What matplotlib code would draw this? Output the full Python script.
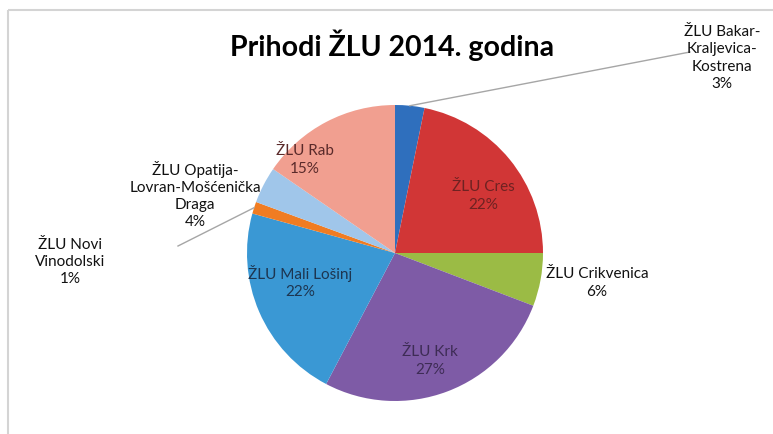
import numpy as np
import matplotlib.pyplot as plt

plt.rcParams['font.family'] = ['Lato', 'DejaVu Sans']

# data (shares of income, %)
names = ["ŽLU Bakar-\nKraljevica-\nKostrena", "ŽLU Cres", "ŽLU Crikvenica", "ŽLU Krk",
         "ŽLU Mali Lošinj", "ŽLU Novi\nVinodolski", "ŽLU Opatija-\nLovran-Mošćenička\nDraga",
         "ŽLU Rab"]
shares = [3.2, 21.8, 5.8, 26.9, 21.6, 1.3, 4.0, 15.4]
title = "Prihodi ŽLU 2014. godina"

colors = ["#2f6fbd", "#d13636", "#9bbb45", "#7e5ba6", "#3a98d4", "#f07c22", "#a0c6ea", "#f19f90"]
text_colors = ["#111111", "#6e2222", "#111111", "#3e2c55", "#1d3550", "#111111", "#111111", "#5a2a2a"]

# layout in pixel coords (y measured from top)
W, H = 773, 434
cx, cy, R = 395, 253, 148
label_pos = [(722, 58), (483, 196), (597, 283), (430, 361),
             (300, 282), (70, 262), (195, 195), (305, 160)]
leader_end = {0: (690, 52), 5: (178, 246)}

fig = plt.figure(figsize=(W / 100, H / 100), dpi=100)
ax = fig.add_axes([0, 0, 1, 1])

wedges, _ = ax.pie(shares, colors=colors, startangle=90, counterclock=False,
                   center=(cx, H - cy), radius=R, wedgeprops=dict(linewidth=0))
ax.set_xlim(0, W)
ax.set_ylim(0, H)
ax.set_aspect('equal')
ax.axis('off')

# leader lines from slice edge to outer labels
cum = np.cumsum([0] + shares)
for i, (ex, ey) in leader_end.items():
    mid = (cum[i] + cum[i + 1]) / 2 / 100 * 2 * np.pi
    sx = cx + R * np.sin(mid)
    sy = cy - R * np.cos(mid)
    ax.plot([sx, ex], [H - sy, H - ey], color="#a6a6a6", lw=1)

for i, (name, v) in enumerate(zip(names, shares)):
    x, y = label_pos[i]
    ax.text(x, H - y, f"{name}\n{round(v)}%", ha='center', va='center',
            fontsize=11, color=text_colors[i], linespacing=1.3)

ax.text(392, H - 45, title, ha='center', va='center', fontsize=20.5,
        fontweight='bold', color='black')

# chart frame
ax.plot([8, W], [H - 10, H - 10], color="#d4d4d4", lw=1.5, solid_capstyle='butt')
ax.plot([8, 8], [H - 10, 0], color="#d4d4d4", lw=1.5, solid_capstyle='butt')

fig.savefig("out.png", dpi=100)
